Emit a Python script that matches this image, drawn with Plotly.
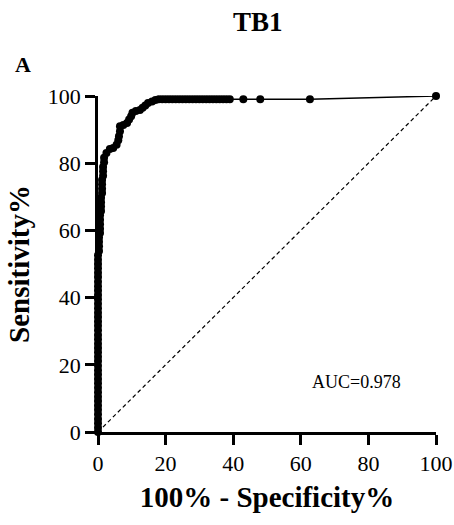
import plotly.graph_objects as go

# ROC-punkter (100% - specificitet, sensitivitet)
fpr = [
    0, 0, 0, 0, 0, 0, 0, 0, 0, 0, 0, 0, 0, 0, 0, 0, 0, 0, 0, 0,
    0, 0, 0, 0, 0, 0, 0, 0, 0, 0, 0, 0, 0, 0, 0, 0, 0, 0, 0, 0, 0,
    0.3, 0.3, 0.3, 0.3,
    0.6, 0.6, 0.6, 0.6, 0.6,
    0.9, 0.9, 0.9, 0.9,
    1.2, 1.2, 1.2, 1.2,
    1.5, 1.5, 1.5,
    1.8, 1.8,
    2.5, 3.5, 4.5, 5.5, 6.0, 6.2, 6.5, 6.5, 7.5, 8.6, 9.2, 9.8, 10.2,
    11.2, 12.4, 13.2, 14.0, 14.8, 16.0, 17.0,
    18, 19, 20, 21, 22, 23, 24, 25, 26, 27, 28, 29, 30, 31, 32, 33,
    34, 35, 36, 37, 38,
    39, 43, 48, 62.7, 100,
]
sens = [
    0, 1.3, 2.6, 3.9, 5.3, 6.6, 7.9, 9.2, 10.5, 11.8, 13.2, 14.5, 15.8,
    17.1, 18.4, 19.7, 21.1, 22.4, 23.7, 25.0, 26.3, 27.6, 28.9, 30.3,
    31.6, 32.9, 34.2, 35.5, 36.8, 38.2, 39.5, 40.8, 42.1, 43.4, 44.7,
    46.1, 47.4, 48.7, 50.0, 51.3, 52.6,
    53.9, 55.3, 56.6, 57.9,
    59.2, 60.5, 61.8, 63.2, 64.5,
    65.8, 67.1, 68.4, 69.7,
    71.1, 72.4, 73.7, 75.0,
    76.3, 77.6, 78.9,
    80.3, 81.6,
    83.0, 84.2, 84.5, 85.5, 86.8, 88.0, 89.5, 91.0, 91.4, 92.0, 93.0,
    94.0, 95.0, 95.5, 95.8, 96.5, 97.2, 97.9, 98.4, 98.8,
    99, 99, 99, 99, 99, 99, 99, 99, 99, 99, 99, 99, 99, 99, 99, 99,
    99, 99, 99, 99, 99,
    99, 99, 99, 99, 100,
]
ref_line = [0, 100]
tick_vals = [0, 20, 40, 60, 80, 100]
auc_text = "AUC=0.978"

serif = "Liberation Serif, Times New Roman, serif"

fig = go.Figure()

# diagonal reference line
fig.add_trace(go.Scatter(x=ref_line, y=ref_line, mode="lines",
                         line=dict(color="black", width=1.2, dash="4px,3px"),
                         hoverinfo="skip", cliponaxis=False))

# ROC curve
fig.add_trace(go.Scatter(x=fpr, y=sens, mode="lines+markers",
                         line=dict(color="black", width=1.5),
                         marker=dict(color="black", size=8),
                         cliponaxis=False))

axis_style = dict(range=[0, 100], tickvals=tick_vals, showgrid=False,
                  zeroline=False, showline=True, linecolor="black",
                  linewidth=2.5, ticks="outside", ticklen=10,
                  tickwidth=2.5, tickcolor="black", automargin=False,
                  tickfont=dict(family=serif, size=22, color="black"))

fig.update_xaxes(**axis_style,
                 title=dict(text="<b>100% - Specificity%</b>", standoff=12,
                            font=dict(family=serif, size=29, color="black")))
fig.update_yaxes(**axis_style,
                 title=dict(text="<b>Sensitivity%</b>", standoff=10,
                            font=dict(family=serif, size=29, color="black")))

fig.add_annotation(text="<b>TB1</b>", xref="paper", yref="paper",
                   x=0.473, y=1.22, yanchor="middle", showarrow=False,
                   font=dict(family=serif, size=27, color="black"))
fig.add_annotation(text="<b>A</b>", xref="paper", yref="paper",
                   x=-0.222, y=1.095, xanchor="center", yanchor="middle",
                   showarrow=False,
                   font=dict(family=serif, size=22, color="black"))
fig.add_annotation(text=auc_text, xref="paper", yref="paper",
                   x=0.626, y=0.150, xanchor="left", yanchor="middle",
                   showarrow=False,
                   font=dict(family=serif, size=18, color="black"))

fig.update_layout(width=454, height=525, showlegend=False,
                  plot_bgcolor="white", paper_bgcolor="white",
                  margin=dict(l=98, r=18, t=96, b=93))

# fjern sidens standardmargen så figuren fylder hele vinduet
fig.write_html("out.html", config={"displayModeBar": False},
               post_script="document.body.style.margin='0';"
                           "document.body.style.overflow='hidden';")
